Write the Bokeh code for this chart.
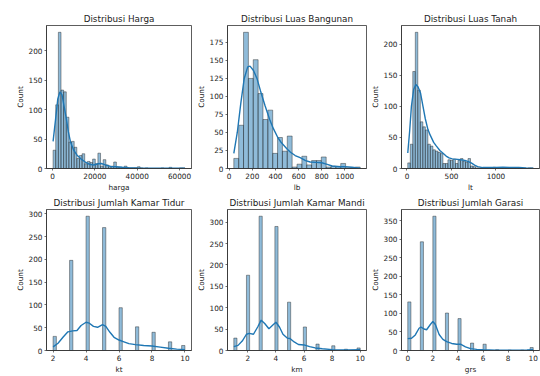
import numpy as np
from bokeh.plotting import figure
from bokeh.layouts import row, column
from bokeh.models import Range1d, FixedTicker
from bokeh.embed import file_html
from bokeh.resources import INLINE

# ---------------- data ----------------
# continuous variables: histogram bins (start, width) + counts per bin
harga_start = 280
harga_width = 1245
harga_counts = [31, 108, 231, 133, 130, 87, 45, 46, 36, 17, 22, 25, 8, 12, 10, 16, 8, 26, 4, 15,
                6, 3, 4, 11, 2, 2, 1, 4, 1, 1, 1, 1, 3, 1, 0, 1, 0, 0, 0, 0,
                0, 1, 0, 0, 2, 0, 0, 0, 1, 1]
harga_kde_x = [280, 1500, 2500, 3500, 4500, 5500, 6500, 7500, 8500, 10000, 11500, 13500, 15500,
               17500, 19500, 21500, 23000, 25000, 27500, 30000, 33000, 36000, 40000, 45000,
               50000, 55000, 58000, 62530]
harga_kde_y = [46, 85, 118, 130, 125, 105, 85, 62, 45, 31, 23, 16, 11, 7, 6, 8, 8.5, 6, 3.5, 3,
               2, 1.5, 1, 0.5, 0.3, 0.6, 0.5, 0.3]

lb_start = 40
lb_width = 42
lb_counts = [14, 60, 189, 125, 151, 104, 68, 81, 21, 43, 24, 45, 2, 6, 17, 5, 11, 11, 16, 2,
             3, 3, 7, 1, 1, 2]
lb_kde_x = [40, 70, 100, 130, 160, 180, 210, 240, 270, 310, 350, 380, 420, 450, 500, 530, 570,
            613, 660, 700, 750, 800, 840, 890, 950, 1000, 1060, 1132]
lb_kde_y = [21, 50, 90, 125, 141, 142, 136, 125, 108, 87, 68, 56, 43, 36, 27, 22.6, 18, 15, 11,
            9, 8.5, 8, 6, 3.5, 2.5, 2.6, 1.8, 0.5]

lt_start = 9
lt_width = 28.2
lt_counts = [9, 39, 156, 219, 126, 75, 67, 62, 39, 36, 30, 28, 26, 24, 8, 8, 14, 13, 15, 8,
             13, 16, 12, 10, 16, 4, 3, 1, 1, 1, 1, 0, 1, 1, 2, 1, 0, 0, 1, 0,
             0, 0, 0, 1, 0, 0, 0, 0, 1, 1]
lt_kde_x = [9, 30, 50, 75, 100, 125, 153, 180, 206, 235, 260, 300, 331, 370, 402, 440, 473, 510,
            544, 600, 651, 690, 722, 760, 794, 850, 936, 1000, 1078, 1150, 1256, 1340, 1419]
lt_kde_y = [25, 60, 100, 127, 135, 131, 121, 100, 80, 63, 54, 42, 36, 29, 25, 20, 17, 15.5, 15,
            14, 13, 11, 9, 5.5, 3, 1.5, 1.5, 1.8, 2, 1.5, 1.5, 0.8, 0.5]

# discrete variables: value -> count
kt_values = [2, 3, 4, 5, 6, 7, 8, 9, 10]
kt_counts = [31, 198, 295, 270, 94, 52, 40, 19, 11]
kt_kde_x = [2, 2.3, 2.6, 2.9, 3.2, 3.45, 3.7, 4.0, 4.2, 4.45, 4.7, 5.0, 5.2, 5.45, 5.7, 6.0, 6.3,
            6.6, 7.0, 7.5, 8.0, 8.5, 9.0, 9.5, 10]
kt_kde_y = [8, 16, 29, 41, 43, 44, 55, 62, 60, 53, 51, 57, 53, 40, 29, 23, 19, 15, 13, 11, 10,
            7.5, 5, 3, 2]

km_values = [1, 2, 3, 4, 5, 6, 7, 8, 9, 10]
km_counts = [29, 176, 314, 290, 113, 55, 15, 11, 3, 6]
km_kde_x = [1, 1.3, 1.6, 1.9, 2.1, 2.4, 2.7, 2.95, 3.2, 3.5, 3.8, 4.0, 4.25, 4.5, 4.8, 5.0, 5.3,
            5.6, 6.0, 6.4, 6.8, 7.3, 8.0, 8.6, 9.2, 10]
km_kde_y = [9, 12, 22, 38, 40, 38, 55, 71, 63, 51, 60, 66, 55, 38, 29, 28, 20, 14, 13, 9, 6, 4,
            2, 1.5, 1.5, 2]

grs_values = [0, 1, 2, 3, 4, 5, 6, 7, 8, 9, 10]
grs_counts = [131, 293, 362, 101, 86, 20, 17, 2, 1, 1, 8]
grs_kde_x = [0, 0.3, 0.6, 0.9, 1.05, 1.3, 1.5, 1.8, 2.0, 2.2, 2.5, 2.8, 3.1, 3.5, 3.9, 4.2, 4.6,
             5.0, 5.5, 6.0, 7.0, 8.5, 9.5, 10]
grs_kde_y = [32, 33, 42, 60, 63, 58, 56, 70, 78, 70, 43, 30, 24, 19, 17, 17, 10, 5, 3, 2, 1, 1,
             1.5, 2]

titles = ["Distribusi Harga", "Distribusi Luas Bangunan", "Distribusi Luas Tanah",
          "Distribusi Jumlah Kamar Tidur", "Distribusi Jumlah Kamar Mandi", "Distribusi Jumlah Garasi"]
xlabels = ["harga", "lb", "lt", "kt", "km", "grs"]
ylabel = "Count"

xticks = [[0, 20000, 40000, 60000], [0, 200, 400, 600, 800, 1000], [0, 500, 1000],
          [2, 4, 6, 8, 10], [2, 4, 6, 8, 10], [0, 2, 4, 6, 8, 10]]
yticks = [[0, 50, 100, 150, 200], [0, 25, 50, 75, 100, 125, 150, 175], [0, 50, 100, 150, 200],
          [0, 50, 100, 150, 200, 250, 300], [0, 50, 100, 150, 200, 250, 300],
          [0, 50, 100, 150, 200, 250, 300, 350]]

# discrete histogram bin settings (lower bound, bin width)
kt_bins = (2.0, 0.2)
km_bins = (1.0, 0.225)
grs_bins = (0.0, 0.25)

# ---------------- styling ----------------
FONT = "DejaVu Sans"
BLUE = "#1f77b4"
EDGE = "#222222"
TXT = "#222222"
SPINE = "#333333"


def base_fig(idx, width, height, left, right, top, bottom, xr, yr):
    p = figure(width=width, height=height, output_backend="svg", toolbar_location=None,
               x_range=Range1d(*xr), y_range=Range1d(*yr),
               min_border_left=left, min_border_right=right,
               min_border_top=top, min_border_bottom=bottom)
    p.title.text = titles[idx]
    p.title.align = "center"
    p.title.text_font = FONT
    p.title.text_font_size = "8.8px"
    p.title.text_font_style = "normal"
    p.title.text_color = TXT
    p.title.standoff = 3
    p.xgrid.visible = False
    p.ygrid.visible = False
    p.outline_line_color = SPINE
    p.outline_line_width = 0.8
    p.outline_line_alpha = 1.0
    p.background_fill_color = "white"
    p.border_fill_color = "white"
    p.xaxis.ticker = FixedTicker(ticks=xticks[idx])
    p.yaxis.ticker = FixedTicker(ticks=yticks[idx])
    p.xaxis.axis_label = xlabels[idx]
    p.yaxis.axis_label = ylabel
    for ax in (p.xaxis[0], p.yaxis[0]):
        ax.axis_line_color = SPINE
        ax.axis_line_width = 0.8
        ax.major_tick_line_color = SPINE
        ax.major_tick_line_width = 0.7
        ax.major_tick_out = 2
        ax.major_tick_in = 0
        ax.minor_tick_line_color = None
        ax.major_label_text_font = FONT
        ax.major_label_text_font_size = "7.3px"
        ax.major_label_text_color = TXT
        ax.major_label_standoff = 2
        ax.axis_label_text_font = FONT
        ax.axis_label_text_font_size = "7.3px"
        ax.axis_label_text_font_style = "normal"
        ax.axis_label_text_color = TXT
        ax.axis_label_standoff = 1
    return p


def add_marks(p, left, right, counts, kx, ky):
    p.quad(left=left, right=right, bottom=0, top=counts,
           fill_color=BLUE, fill_alpha=0.5, line_color=EDGE, line_width=0.55, line_alpha=0.8)
    p.line(kx, ky, line_color=BLUE, line_width=1.4)


def cont_panel(idx, start, width_bin, counts, kx, ky, geom):
    n = len(counts)
    edges = start + width_bin * np.arange(n + 1)
    lo, hi = edges[0], edges[-1]
    m = (hi - lo) * 0.05
    ymax = max(counts) * 1.05
    p = base_fig(idx, *geom, xr=(lo - m, hi + m), yr=(0, ymax))
    add_marks(p, edges[:-1], edges[1:], counts, kx, ky)
    return p


def disc_panel(idx, values, counts, bins, kx, ky, geom):
    lo, w = bins
    vals = np.array(values, dtype=float)
    hi = vals.max()
    nb = int(round((hi - lo) / w))
    k = np.minimum(np.floor((vals - lo) / w + 1e-9), nb - 1)
    left = lo + k * w
    right = left + w
    m = (hi - lo) * 0.05
    ymax = max(counts) * 1.05
    p = base_fig(idx, *geom, xr=(lo - m, hi + m), yr=(0, ymax))
    add_marks(p, left, right, counts, kx, ky)
    return p


# geometry: (width, height, left, right, top, bottom)
g_top = [(193, 194, 46, 2, 25, 22), (174, 194, 28, 1, 25, 22), (173, 194, 28, 1, 25, 22)]
g_bot = [(193, 182, 46, 2, 14, 21), (174, 182, 28, 1, 14, 21), (173, 182, 28, 1, 14, 21)]

p1 = cont_panel(0, harga_start, harga_width, harga_counts, harga_kde_x, harga_kde_y, g_top[0])
p2 = cont_panel(1, lb_start, lb_width, lb_counts, lb_kde_x, lb_kde_y, g_top[1])
p3 = cont_panel(2, lt_start, lt_width, lt_counts, lt_kde_x, lt_kde_y, g_top[2])
p4 = disc_panel(3, kt_values, kt_counts, kt_bins, kt_kde_x, kt_kde_y, g_bot[0])
p5 = disc_panel(4, km_values, km_counts, km_bins, km_kde_x, km_kde_y, g_bot[1])
p6 = disc_panel(5, grs_values, grs_counts, grs_bins, grs_kde_x, grs_kde_y, g_bot[2])

layout = column(row(p1, p2, p3), row(p4, p5, p6))

with open("out.html", "w") as f:
    f.write(file_html(layout, INLINE))
